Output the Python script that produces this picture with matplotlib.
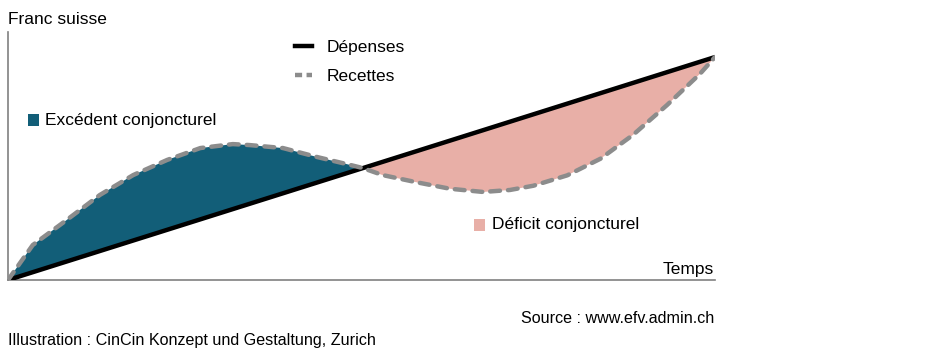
import numpy as np
import matplotlib.pyplot as plt
from matplotlib.lines import Line2D
from matplotlib.patches import Rectangle

plt.rcParams['font.family'] = ['Liberation Sans', 'DejaVu Sans']

# time axis (0..100) and the two series
temps = [0, 3.5, 8.3, 13.0, 17.7, 22.5, 27.2, 31.8, 34.2, 38.9, 43.7, 48.4, 50.1,
         53.0, 57.8, 62.5, 67.2, 71.0, 74.3, 79.1, 83.8, 88.4, 93.2, 97.9, 100]
recettes = [0, 14.1, 24.2, 34.3, 42.3, 48.4, 53.2, 54.8, 54.4, 53.2, 49.6, 46.4, 45.2,
            42.3, 39.4, 36.8, 35.5, 36.3, 38.0, 42.2, 48.9, 58.5, 70.5, 83.2, 89.9]
depenses_debut, depenses_fin = 0, 89.9

teal = '#125E78'
pink = '#E8AFA7'
grey = '#8C8C8C'

x = np.array(temps)
rec = np.array(recettes)
dep = depenses_debut + (depenses_fin - depenses_debut) * x / 100

fig = plt.figure(figsize=(9.3, 3.59), dpi=100)
ax = fig.add_axes([8/930, 1 - 280/359, 707/930, 248/359])

ax.fill_between(x, dep, rec, where=rec >= dep, interpolate=True, color=teal, lw=0)
ax.fill_between(x, dep, rec, where=rec <= dep, interpolate=True, color=pink, lw=0)
ax.plot(x, dep, color='black', lw=3.2, solid_capstyle='butt', zorder=3)
ax.plot(x, rec, color=grey, lw=3.2, dashes=(2.2, 1.8), dash_capstyle='round', zorder=4)

ax.set_xlim(0, 100)
ax.set_ylim(0, 100)
ax.set_xticks([])
ax.set_yticks([])
for s in ['top', 'right']:
    ax.spines[s].set_visible(False)
for s in ['left', 'bottom']:
    ax.spines[s].set_color('#808080')
    ax.spines[s].set_linewidth(1.2)

handles = [Line2D([], [], color='black', lw=3.2),
           Line2D([], [], color=grey, lw=3.2, dashes=(1.6, 1.0))]
ax.legend(handles, ['Dépenses', 'Recettes'], loc='upper left',
          bbox_to_anchor=((279 - 8) / 707, 1.03), frameon=False, fontsize=12.5,
          handlelength=1.0, handletextpad=0.85, labelspacing=0.8)

# zone labels
ax.add_patch(Rectangle(((28 - 8) / 707, (280 - 126) / 248), 11/707, 12/248,
                       transform=ax.transAxes, color=teal, lw=0))
ax.text((45 - 8) / 707, (280 - 120) / 248, 'Excédent conjoncturel', transform=ax.transAxes,
        fontsize=12.5, va='center', ha='left')
ax.add_patch(Rectangle(((474 - 8) / 707, (280 - 231) / 248), 11/707, 12/248,
                       transform=ax.transAxes, color=pink, lw=0))
ax.text((492 - 8) / 707, (280 - 225) / 248, 'Déficit conjoncturel', transform=ax.transAxes,
        fontsize=12.5, va='center', ha='left')

fig.text(8/930, 1 - 24/359, 'Franc suisse', fontsize=12.5, ha='left', va='baseline')
fig.text(714/930, 1 - 274/359, 'Temps', fontsize=12.5, ha='right', va='baseline')
fig.text(714/930, 1 - 323/359, 'Source : www.efv.admin.ch', fontsize=11.6, ha='right', va='baseline')
fig.text(8/930, 1 - 345/359, 'Illustration : CinCin Konzept und Gestaltung, Zurich', fontsize=11.6,
         ha='left', va='baseline')

fig.savefig('out.png', dpi=100)
